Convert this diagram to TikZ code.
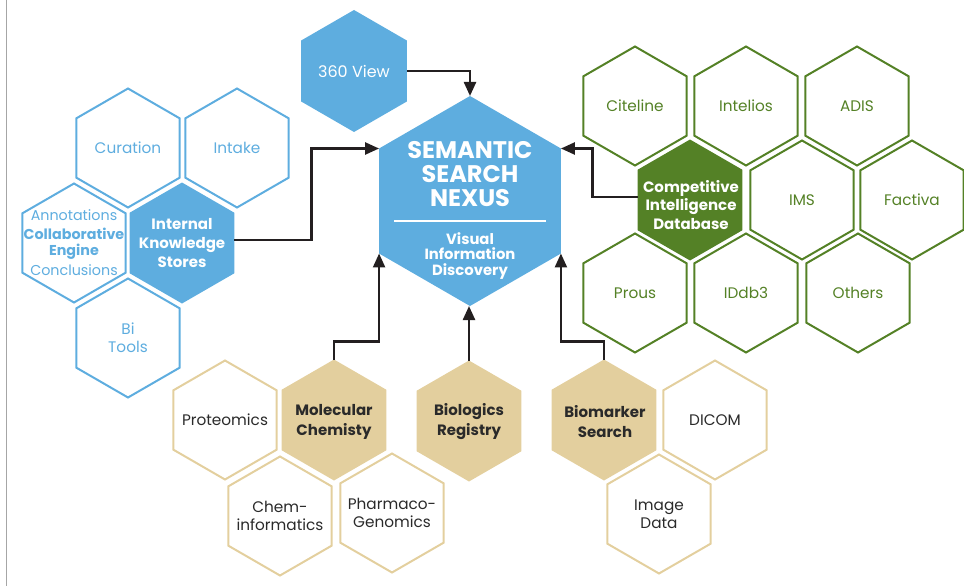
\documentclass[tikz,border=0pt]{standalone}
\usepackage{fontspec}
\setmainfont{Poppins}
\usetikzlibrary{shapes.geometric,arrows.meta,calc}
\definecolor{nblue}{HTML}{5EADDF}
\definecolor{ngreen}{HTML}{548126}
\definecolor{ntan}{HTML}{E3CF9E}
\definecolor{ndark}{HTML}{2A2A2A}
\definecolor{narrow}{HTML}{231F20}
\tikzset{
  hexbase/.style={regular polygon, regular polygon sides=6, shape border rotate=30,
    inner sep=0pt, outer sep=0pt, minimum size=119pt, line width=2pt},
  hexblueo/.style={hexbase, draw=nblue},
  hexbluef/.style={hexbase, fill=nblue, minimum size=121pt},
  hexgreeno/.style={hexbase, draw=ngreen},
  hexgreenf/.style={hexbase, fill=ngreen, minimum size=121pt},
  hextano/.style={hexbase, draw=ntan},
  hextanf/.style={hexbase, fill=ntan, minimum size=121pt},
  txt/.style={align=center, inner sep=0pt, font=\fontsize{15.3}{18}\selectfont},
  txtblue/.style={txt, text=nblue},
  txtwhite/.style={txt, text=white, font=\bfseries\fontsize{15}{19}\selectfont},
  txtgreen/.style={txt, text=ngreen},
  txtdark/.style={txt, text=ndark},
  txtdarkb/.style={txt, text=ndark, font=\bfseries\fontsize{15}{20}\selectfont},
  conn/.style={draw=narrow, line width=2.4pt, -{Triangle[length=14pt,width=12pt]}},
}
\newcommand\hexagon[5]{\node[#3] (#1) at (#2) {}; \node[#4] (#1t) at (#1.center) {#5};}
\begin{document}
\begin{tikzpicture}[x=1pt,y=-1pt]
\useasboundingbox (0,0) rectangle (964,586);
\draw[gray!70, line width=1.5pt] (6.5,0) -- (6.5,586);
% blue group
\hexagon{cur}{128,148}{hexblueo}{txtblue}{Curation}
\hexagon{intake}{237,148}{hexblueo}{txtblue}{Intake}
\hexagon{collab}{74,243}{hexblueo}{txtblue, font=\fontsize{14.3}{16.5}\selectfont}{Annotations\\[2pt]{\bfseries Collaborative}\\{\bfseries Engine}\\[3.5pt]Conclusions}
\hexagon{iks}{182,243}{hexbluef}{txtwhite}{Internal\\Knowledge\\Stores}
\hexagon{bi}{128,338}{hexblueo}{txtblue}{Bi\\Tools}
\hexagon{v360}{354,71}{hexbluef, minimum size=122pt}{txt, text=white, font=\fontsize{16}{18}\selectfont}{360 View}
\node[hexbase, fill=nblue, minimum size=210pt] (sem) at (470,201) {};
\node[txt, text=white, font=\bfseries\fontsize{24}{24}\selectfont] (semt) at (470,174) {SEMANTIC\\SEARCH\\NEXUS};
\node[txt, text=white, font=\bfseries\fontsize{14.8}{15.8}\selectfont] (sems) at (470,256) {Visual\\Information\\Discovery};
\draw[white, line width=1.6pt] ($(sem.center)+(-76,20)$) -- ($(sem.center)+(76,20)$);
% green group
\hexagon{citeline}{635,106}{hexgreeno}{txtgreen}{Citeline}
\hexagon{intelios}{746,106}{hexgreeno}{txtgreen}{Intelios}
\hexagon{adis}{857,106}{hexgreeno}{txtgreen}{ADIS}
\node[hexgreenf] (cid) at (690,200) {};
\node[txtwhite, font=\bfseries\fontsize{15}{18.5}\selectfont] (cidt) at (691,205) {Competitive\\Intelligence\\Database};
\hexagon{ims}{802,200}{hexgreeno}{txtgreen}{IMS}
\hexagon{factiva}{912,200}{hexgreeno}{txtgreen}{Factiva}
\hexagon{prous}{635,293}{hexgreeno}{txtgreen}{Prous}
\hexagon{iddb}{746,293}{hexgreeno}{txtgreen}{IDdb3}
\hexagon{others}{858,293}{hexgreeno}{txtgreen}{Others}
% tan group
\hexagon{prot}{225,420}{hextano}{txtdark}{Proteomics}
\node[hextanf] (mol) at (334,420) {};
\node[txtdarkb] (molt) at (334,422) {Molecular\\Chemisty};
\hexagon{chem}{280,516}{hextano}{txtdark}{Chem-\\informatics}
\hexagon{pharma}{392,513}{hextano}{txtdark}{Pharmaco-\\Genomics}
\node[hextanf] (bio) at (469,421) {};
\node[txtdarkb] (biot) at (469,422) {Biologics\\Registry};
\node[hextanf] (biom) at (604,420) {};
\node[txtdarkb] (biomt) at (605,422) {Biomarker\\Search};
\hexagon{dicom}{715,420}{hextano}{txtdark}{DICOM}
\hexagon{image}{659,514}{hextano}{txtdark}{Image\\Data}
% connectors
\draw[conn] (v360.east) -| (sem.north);
\draw[conn] ($(iks.east)+(0,-3)$) -- ++(77,0) |- (sem.150);
\draw[conn] ($(cid.west)+(0,-3)$) -- ++(-45,0) |- (sem.30);
\draw[conn] (mol.north) -- ++(0,-18) -| (sem.210);
\draw[conn] (bio.north) -- (bio.north |- sem.south);
\draw[conn] (biom.north) -- ++(0,-18) -| (sem.330);
\end{tikzpicture}
\end{document}
